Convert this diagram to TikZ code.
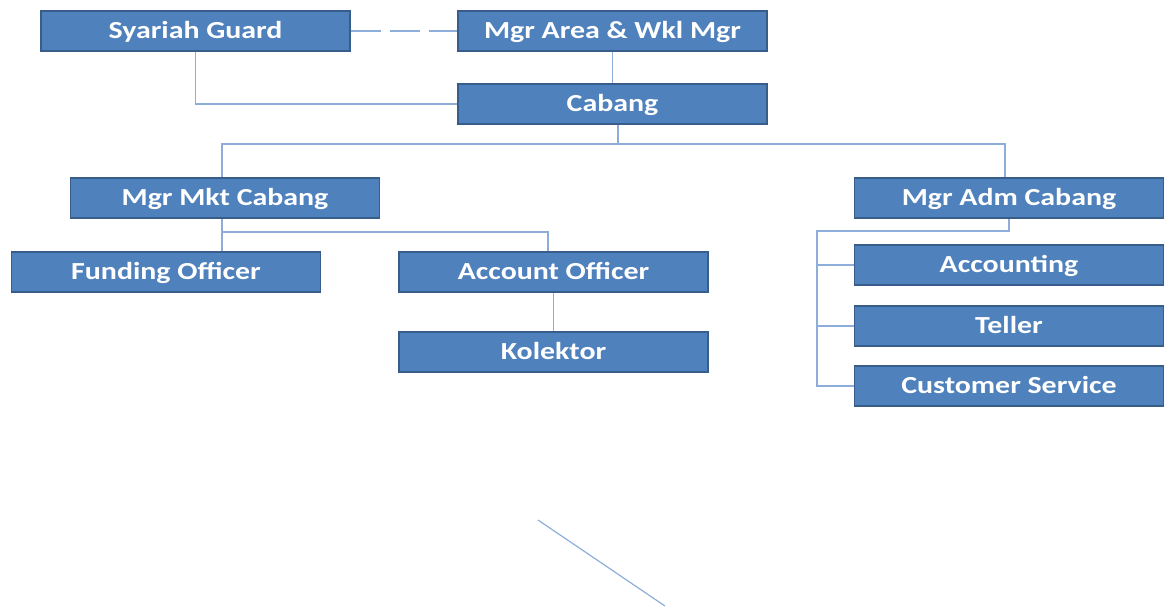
\documentclass[tikz,border=0pt]{standalone}
\usepackage{fontspec}
\setmainfont{Carlito}
\begin{document}
\begin{tikzpicture}[x=1pt,y=-1pt]
\definecolor{boxfill}{HTML}{4F81BD}
\definecolor{boxline}{HTML}{385D8A}
\definecolor{conn}{HTML}{8EAEDA}
\tikzset{
  orgbox/.style={draw=boxline, line width=1.6pt, fill=boxfill, minimum width=309pt, minimum height=40pt, inner sep=0pt, text height=17pt, text depth=3pt, text=white, font=\addfontfeature{FakeStretch=1.22}\bfseries\fontsize{24.5}{28}\selectfont},
  link/.style={draw=conn, line width=1.2pt}
}
\useasboundingbox (0,0) rectangle (1165,606);
\node[orgbox] (sg) at (195.5,31) {Syariah Guard};
\node[orgbox] (ma) at (612.5,31) {Mgr Area \& Wkl Mgr};
\node[orgbox] (cb) at (612.5,104) {Cabang};
\node[orgbox] (mk) at (225,198) {Mgr Mkt Cabang};
\node[orgbox] (ad) at (1009,198) {Mgr Adm Cabang};
\node[orgbox] (fo) at (166,272) {Funding Officer};
\node[orgbox] (ao) at (553.5,272) {Account Officer};
\node[orgbox] (ko) at (553.5,352) {Kolektor};
\node[orgbox] (ac) at (1009,265) {Accounting};
\node[orgbox] (te) at (1009,326) {Teller};
\node[orgbox] (cs) at (1009,386) {Customer Service};
\coordinate (s1) at (538,520);
\coordinate (s2) at (665,606);
\draw[link, dash pattern=on 30pt off 9pt] (sg.east) -- (ma.west);
\draw[link] (sg.south) |- (cb.west);
\draw[link] (ma.south) -- (cb.north);
\draw[link] (cb.south -| 618,0) -- (618,144);
\draw[link] (mk.north -| 222,0) |- (618,144) -| (ad.north -| 1005,0);
\draw[link] (mk.south -| 222,0) -- (222,232) -| (ao.north -| 548,0);
\draw[link] (222,232) -- (fo.north -| 222,0);
\draw[link] (ao.south) -- (ko.north);
\draw[link] (ad.south) |- (817,231) |- (cs.west);
\draw[link] (817,265) -- (ac.west);
\draw[link] (817,326) -- (te.west);
\draw[link] (s1) -- (s2);
\end{tikzpicture}
\end{document}
